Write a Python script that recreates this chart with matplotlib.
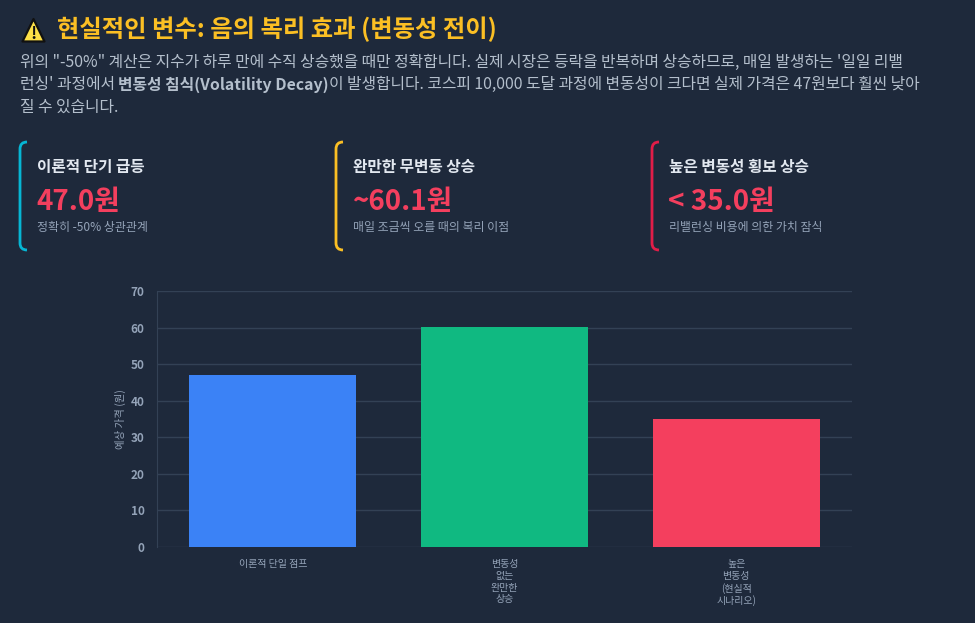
import matplotlib.pyplot as plt
from matplotlib.patches import Polygon, PathPatch
from matplotlib.path import Path

plt.rcParams['font.family'] = ['Noto Sans CJK KR', 'DejaVu Sans']

BG = '#1e293b'
GRID = '#334155'
MUTED = '#94a3b8'

title = '현실적인 변수: 음의 복리 효과 (변동성 전이)'
body_lines = [
    [('위의 "-50%" 계산은 지수가 하루 만에 수직 상승했을 때만 정확합니다. 실제 시장은 등락을 반복하며 상승하므로, 매일 발생하는 \'일일 리밸', False)],
    [('런싱\' 과정에서 ', False), ('변동성 침식(Volatility Decay)', True),
     ('이 발생합니다. 코스피 10,000 도달 과정에 변동성이 크다면 실제 가격은 47원보다 훨씬 낮아', False)],
    [('질 수 있습니다.', False)],
]

card_titles = ['이론적 단기 급등', '완만한 무변동 상승', '높은 변동성 횡보 상승']
card_values = ['47.0원', '~60.1원', '< 35.0원']
card_notes = ['정확히 -50% 상관관계', '매일 조금씩 오를 때의 복리 이점', '리밸런싱 비용에 의한 가치 잠식']
card_colors = ['#06b6d4', '#fbbf24', '#e11d48']

categories = [['이론적 단일 점프'], ['변동성', '없는', '완만한', '상승'], ['높은', '변동성', '(현실적', '시나리오)']]
prices = [47.0, 60.1, 35.0]
bar_colors = ['#3b82f6', '#10b981', '#f43f5e']

fig = plt.figure(figsize=(9.75, 6.23), dpi=100)
fig.patch.set_facecolor(BG)

# overlay in pixel coordinates for the header / cards
ov = fig.add_axes([0, 0, 1, 1])
ov.set_xlim(0, 975)
ov.set_ylim(623, 0)
ov.axis('off')

# warning icon
tri = Polygon([(33.5, 19), (22.5, 41.5), (44.5, 41.5)], closed=True, facecolor='#fde047',
              edgecolor='#111111', linewidth=1.6, joinstyle='round')
ov.add_patch(tri)
ov.text(33.5, 34, '!', ha='center', va='center', fontsize=12, fontweight='bold', color='#111111')

ov.text(57, 29, title, ha='left', va='center', fontsize=17.5, fontweight='bold', color='#fbbf24')

fig.canvas.draw()
renderer = fig.canvas.get_renderer()
for i, segs in enumerate(body_lines):
    x = 20
    y = 62 + i * 22.5
    for s, bold in segs:
        t = ov.text(x, y, s, ha='left', va='center', fontsize=11.4,
                    fontweight='bold' if bold else 'normal', color='#b4bfcc')
        x += t.get_window_extent(renderer).width

# cards
for i in range(3):
    x0 = 20 + i * 316
    top, bot, r = 142, 250, 7
    verts = [(x0 + r, top), (x0, top), (x0, top + r), (x0, bot - r), (x0, bot), (x0 + r, bot)]
    codes = [Path.MOVETO, Path.CURVE3, Path.CURVE3, Path.LINETO, Path.CURVE3, Path.CURVE3]
    ov.add_patch(PathPatch(Path(verts, codes), facecolor='none', edgecolor=card_colors[i], linewidth=2))
    ov.text(x0 + 17, 167, card_titles[i], ha='left', va='center', fontsize=11.3,
            fontweight='bold', color='#e2e8f0')
    ov.text(x0 + 16, 202, card_values[i], ha='left', va='center', fontsize=20,
            fontweight='bold', color='#f43f5e')
    ov.text(x0 + 17, 228, card_notes[i], ha='left', va='center', fontsize=8.6, color=MUTED)

# bar chart
ax = fig.add_axes([157 / 975, 1 - 547 / 623, (852 - 157) / 975, (547 - 291) / 623])
ax.set_facecolor('none')
xs = range(len(prices))
ax.bar(xs, prices, width=0.72, color=bar_colors, zorder=3)
ax.set_xlim(-0.5, 2.5)
ax.set_ylim(0, 70)
ax.set_yticks(range(0, 71, 10))
ax.grid(axis='y', color=GRID, linewidth=1, zorder=0)
for side in ['top', 'right', 'bottom']:
    ax.spines[side].set_visible(False)
ax.spines['left'].set_color(GRID)
ax.tick_params(axis='y', length=0, pad=9, colors=MUTED, labelsize=8.5)
for lab in ax.get_yticklabels():
    lab.set_fontweight('bold')
ax.set_xticks(list(xs))
ax.set_xticklabels(['\n'.join(c) for c in categories], fontsize=7.2, color=MUTED, linespacing=1.2)
ax.tick_params(axis='x', length=0, pad=9)
ax.set_ylabel('예상 가격 (원)', fontsize=7.5, color=MUTED, labelpad=3)

fig.savefig('out.png', dpi=100, facecolor=BG)
